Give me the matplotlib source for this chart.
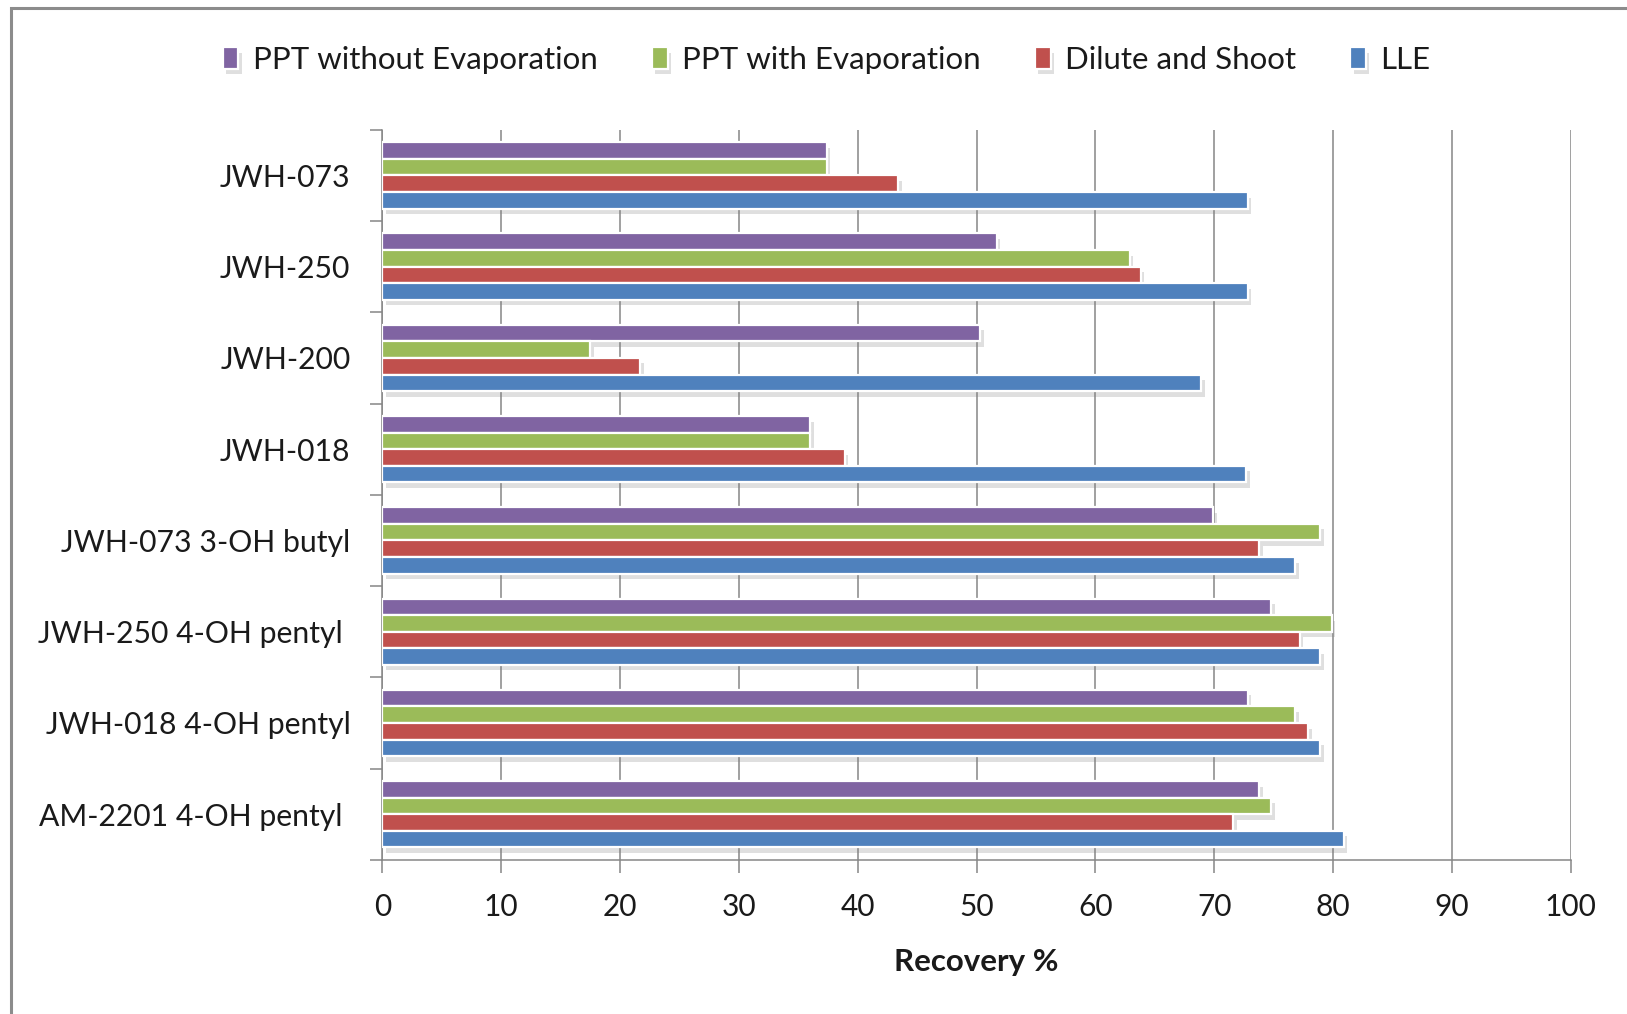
import numpy as np
import matplotlib
matplotlib.use("Agg")
import matplotlib.pyplot as plt
import matplotlib.patheffects as pe
from matplotlib.patches import Rectangle

plt.rcParams['font.family'] = ['Lato', 'DejaVu Sans']

# Data, listed top to bottom
compounds = ["JWH-073", "JWH-250", "JWH-200", "JWH-018",
             "JWH-073 3-OH butyl", "JWH-250 4-OH pentyl ",
             "JWH-018 4-OH pentyl", "AM-2201 4-OH pentyl "]
ppt_no_evap = [37.4, 51.7, 50.3, 36.0, 69.9, 74.8, 72.8, 73.8]
ppt_evap = [37.4, 62.9, 17.5, 36.0, 78.9, 79.9, 76.8, 74.8]
dilute_shoot = [43.4, 63.8, 21.7, 38.9, 73.8, 77.2, 77.9, 71.6]
lle = [72.8, 72.8, 68.9, 72.7, 76.8, 78.9, 78.9, 80.9]

series = [("PPT without Evaporation", ppt_no_evap, "#8064A2"),
          ("PPT with Evaporation", ppt_evap, "#9BBB59"),
          ("Dilute and Shoot", dilute_shoot, "#C0504D"),
          ("LLE", lle, "#4F81BD")]

fig = plt.figure(figsize=(16.27, 10.14), dpi=100)
ax = fig.add_axes([0.235, 0.152, 0.7305, 0.72])

# outer chart frame (left and top edges visible)
fig.patches.append(Rectangle((0.0065, -0.1), 1.2, 1.1 - 0.0075, transform=fig.transFigure,
                             fill=False, edgecolor="#8c8c8c", linewidth=2.2, zorder=0))

y = np.arange(len(compounds))
bar_h = 0.182
shadow = [pe.SimplePatchShadow(offset=(2.5, -4), shadow_rgbFace="0.5", alpha=0.25), pe.Normal()]
for i, (name, vals, color) in enumerate(series):
    offs = (i - 1.5) * bar_h
    bars = ax.barh(y + offs, vals, height=bar_h, color=color, edgecolor="white",
                   linewidth=1.6, label=name, zorder=3)
    for b in bars:
        b.set_path_effects(shadow)

ax.set_xlim(0, 100)
ax.set_ylim(len(compounds) - 0.5, -0.5)
ax.set_xticks(np.arange(0, 101, 10))
ax.xaxis.grid(True, color="#868686", linewidth=1.1, zorder=0)
ax.set_axisbelow(True)

# category ticks at the boundaries, labels at the centres
ax.set_yticks(np.arange(-0.5, len(compounds), 1.0))
ax.set_yticklabels([])
ax.set_yticks(y, minor=True)
ax.set_yticklabels(compounds, minor=True)
ax.tick_params(axis="y", which="major", length=9, color="#868686", width=1.1, direction="out")
ax.tick_params(axis="y", which="minor", length=0, pad=23, labelsize=21.7, labelcolor="#1a1a1a")
ax.tick_params(axis="x", length=9, color="#868686", width=1.1, direction="out",
               pad=15, labelsize=21.5, labelcolor="#1a1a1a")

for s in ["top", "right"]:
    ax.spines[s].set_visible(False)
for s in ["left", "bottom"]:
    ax.spines[s].set_color("#868686")
    ax.spines[s].set_linewidth(1.1)

ax.set_xlabel("Recovery %", fontsize=22.5, fontweight="bold", labelpad=19, color="#1a1a1a")

leg = fig.legend(loc="center", bbox_to_anchor=(0.508, 0.941), ncol=4, frameon=False,
                 fontsize=22.5, handlelength=0.5, handleheight=0.7, handletextpad=0.45,
                 columnspacing=1.75)
for t in leg.get_texts():
    t.set_color("#1a1a1a")

fig.savefig("out.png", dpi=100)
